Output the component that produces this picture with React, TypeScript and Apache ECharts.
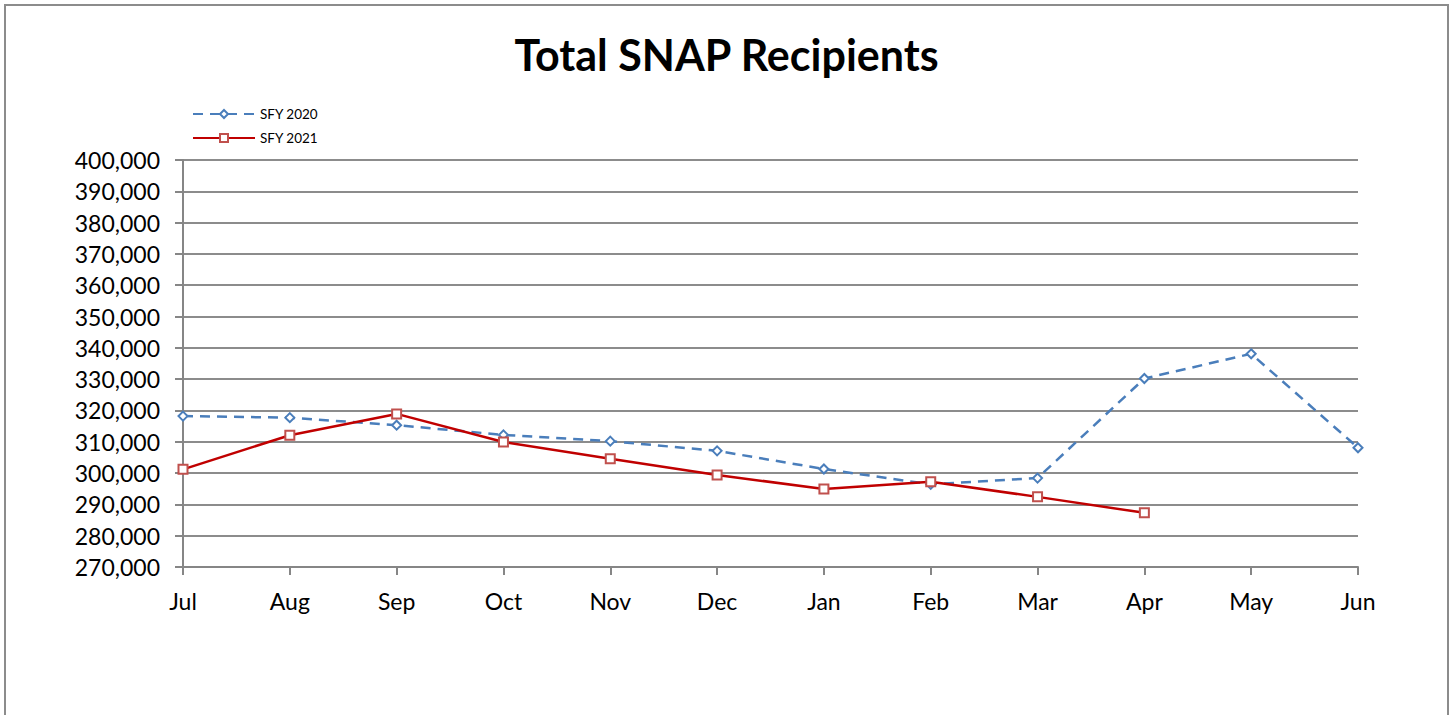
import React, { useEffect, useRef } from "react";
import * as echarts from "echarts";

const months = ["Jul", "Aug", "Sep", "Oct", "Nov", "Dec", "Jan", "Feb", "Mar", "Apr", "May", "Jun"];
const sfy2020 = [318200, 317700, 315300, 312200, 310200, 307100, 301300, 296400, 298400, 330200, 338100, 308100];
const sfy2021 = [301200, 312100, 318900, 309900, 304600, 299400, 294900, 297200, 292400, 287300];

export default function App() {
  const ref = useRef<HTMLDivElement>(null);
  useEffect(() => {
    const chart = echarts.init(ref.current!, undefined, { renderer: "svg" });
    const fontFamily = "Lato, 'Open Sans', sans-serif";
    chart.setOption({
      animation: false,
      backgroundColor: "#fff",
      textStyle: { fontFamily },
      title: {
        text: "Total SNAP Recipients",
        left: "center",
        top: 28,
        textStyle: { fontSize: 43, fontWeight: "bold", color: "#000", fontFamily },
      },
      graphic: [
        {
          type: "rect",
          shape: { x: 5, y: 5, width: 1443, height: 760 },
          style: { fill: "none", stroke: "#8c8c8c", lineWidth: 2 },
          silent: true,
        },
      ],
      legend: {
        orient: "vertical",
        left: 187,
        top: 102,
        itemWidth: 62,
        itemHeight: 10,
        itemGap: 10,
        textStyle: { fontSize: 13.5, color: "#000", fontFamily },
        data: ["SFY 2020", "SFY 2021"],
      },
      grid: { left: 183, right: 95, top: 160, bottom: 148, containLabel: false },
      xAxis: {
        type: "category",
        data: months,
        boundaryGap: false,
        axisLine: { lineStyle: { color: "#868686", width: 2 } },
        axisTick: { show: true, length: 8, alignWithLabel: true, lineStyle: { color: "#868686", width: 2 } },
        axisLabel: { fontSize: 23, color: "#000", margin: 22, fontFamily },
        splitLine: { show: false },
      },
      yAxis: {
        type: "value",
        min: 270000,
        max: 400000,
        interval: 10000,
        axisLine: { show: true, lineStyle: { color: "#868686", width: 2 } },
        axisTick: { show: true, length: 8, lineStyle: { color: "#868686", width: 2 } },
        axisLabel: {
          fontSize: 23,
          color: "#000",
          margin: 23,
          fontFamily,
          formatter: (v: number) => v.toLocaleString("en-US"),
        },
        splitLine: { show: true, lineStyle: { color: "#8c8c8c", width: 2 } },
      },
      series: [
        {
          name: "SFY 2020",
          type: "line",
          data: sfy2020,
          symbol: "diamond",
          symbolSize: 9,
          itemStyle: { color: "#fff", borderColor: "#4a7ebb", borderWidth: 2 },
          lineStyle: { color: "#4a7ebb", width: 2.5, type: [10, 7] },
          z: 2,
        },
        {
          name: "SFY 2021",
          type: "line",
          data: sfy2021,
          symbol: "rect",
          symbolSize: 9,
          itemStyle: { color: "#fff", borderColor: "#c0504d", borderWidth: 2 },
          lineStyle: { color: "#c00000", width: 2.5 },
          z: 3,
        },
      ],
    });
    return () => chart.dispose();
  }, []);
  return (
    <div
      ref={ref}
      style={{ position: "fixed", left: 0, top: 0, width: 1453, height: 715 }}
    />
  );
}
